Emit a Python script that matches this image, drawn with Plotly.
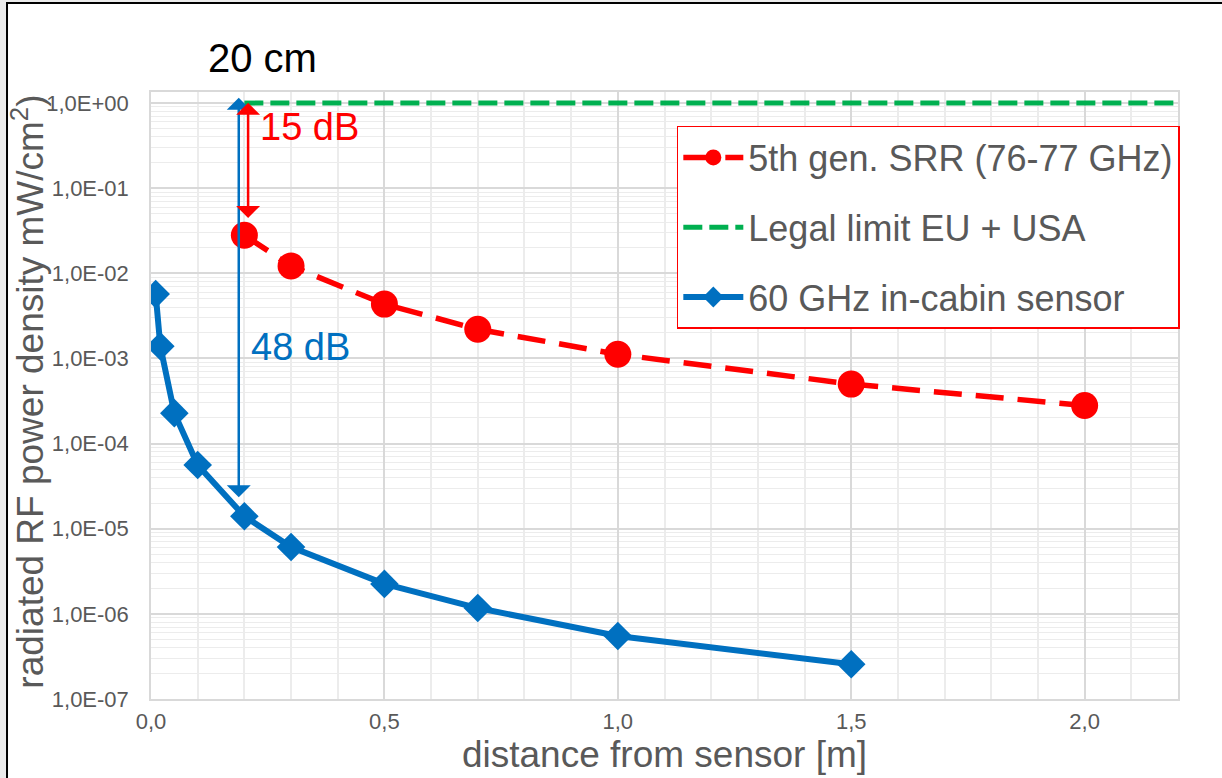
import plotly.graph_objects as go

# ---- data ----
srr_x = [0.2, 0.3, 0.5, 0.7, 1.0, 1.5, 2.0]
srr_y = [2.8e-2, 1.22e-2, 4.35e-3, 2.2e-3, 1.12e-3, 5.0e-4, 2.8e-4]

limit_x = [0.2, 2.2]
limit_y = [1.0, 1.0]

cabin_x = [0.01, 0.02, 0.05, 0.1, 0.2, 0.3, 0.5, 0.7, 1.0, 1.5]
cabin_y = [5.7e-3, 1.39e-3, 2.28e-4, 5.6e-5, 1.4e-5, 6.1e-6, 2.25e-6, 1.17e-6, 5.5e-7, 2.56e-7]

x_tickvals = [0.0, 0.5, 1.0, 1.5, 2.0]
x_ticktext = ["0,0", "0,5", "1,0", "1,5", "2,0"]
y_tickvals = [1e-7, 1e-6, 1e-5, 1e-4, 1e-3, 1e-2, 1e-1, 1e0]
y_ticktext = ["1,0E-07", "1,0E-06", "1,0E-05", "1,0E-04", "1,0E-03", "1,0E-02", "1,0E-01", "1,0E+00"]

RED = "#ff0000"
GREEN = "#00b050"
BLUE = "#0070c0"
GREY = "#595959"
FONT = "Liberation Sans"

fig = go.Figure()

fig.add_trace(go.Scatter(
    x=srr_x, y=srr_y, mode="lines+markers", name="5th gen. SRR (76-77 GHz)",
    line=dict(color=RED, width=5.5, dash="28px,14px"),
    marker=dict(symbol="circle", size=27, color=RED),
    legendgroup="a",
))
fig.add_trace(go.Scatter(
    x=limit_x, y=limit_y, mode="lines", name="Legal limit EU + USA",
    line=dict(color=GREEN, width=5, dash="19px,7px"),
    legendgroup="b",
))
fig.add_trace(go.Scatter(
    x=cabin_x, y=cabin_y, mode="lines+markers", name="60 GHz in-cabin sensor",
    line=dict(color=BLUE, width=6),
    marker=dict(symbol="diamond", size=22, color=BLUE),
    legendgroup="c",
))

# arrows (annotation coords on log axis are log10)
fig.add_annotation(x=0.188, y=-4.63, ax=0.188, ay=0.08, xref="x", yref="y", axref="x", ayref="y",
                   text="", showarrow=True, arrowhead=1, startarrowhead=1, arrowside="end+start",
                   arrowsize=1.6, startarrowsize=1.6, arrowwidth=2.5, arrowcolor=BLUE, standoff=0, startstandoff=0)
fig.add_annotation(x=0.208, y=-1.35, ax=0.208, ay=0.02, xref="x", yref="y", axref="x", ayref="y",
                   text="", showarrow=True, arrowhead=1, startarrowhead=1, arrowside="end+start",
                   arrowsize=1.6, startarrowsize=1.6, arrowwidth=2.5, arrowcolor=RED, standoff=0, startstandoff=0)

fig.add_annotation(x=0.238, y=1.056, xref="x", yref="paper", xanchor="center", yanchor="middle",
                   text="20 cm", showarrow=False,
                   font=dict(family=FONT, size=40, color="black"))
fig.add_annotation(x=0.34, y=-0.28, xref="x", yref="y", text="15 dB", showarrow=False,
                   font=dict(family=FONT, size=38, color=RED))
fig.add_annotation(x=0.321, y=-2.87, xref="x", yref="y", text="48 dB", showarrow=False,
                   font=dict(family=FONT, size=38, color=BLUE))

# y axis title
fig.add_annotation(x=-0.119, y=0.506, xref="paper", yref="paper", xanchor="center", yanchor="middle",
                   text="radiated RF power density mW/cm<sup>2</sup>)", textangle=-90, showarrow=False,
                   font=dict(family=FONT, size=37, color=GREY))

# outer frame
fig.add_shape(type="rect", xref="paper", yref="paper", x0=-0.1402, x1=1.3, y0=-0.4, y1=1.1466,
              line=dict(color="black", width=2), fillcolor="white", layer="below")

fig.update_layout(
    width=1222, height=778,
    margin=dict(l=151, r=44, t=92, b=79, autoexpand=False),
    paper_bgcolor="#ebebeb", plot_bgcolor="white",
    font=dict(family=FONT, color=GREY),
    legend=dict(x=0.512, y=0.944, xanchor="left", yanchor="top",
                bordercolor=RED, borderwidth=1.5, bgcolor="white",
                font=dict(family=FONT, size=36, color=GREY),
                tracegroupgap=20, traceorder="grouped", itemwidth=60),
    showlegend=True,
)

fig.update_xaxes(
    range=[0, 2.2], tickvals=x_tickvals, ticktext=x_ticktext,
    tickfont=dict(size=22, color=GREY), ticks="", ticklabelstandoff=2,
    showgrid=True, gridcolor="#d9d9d9", gridwidth=1.5,
    minor=dict(dtick=0.1, showgrid=True, gridcolor="#ececec", gridwidth=1.5),
    showline=True, linecolor="#d9d9d9", linewidth=1.5, mirror=True, zeroline=False,
    title=dict(text="distance from sensor [m]", font=dict(size=37, color=GREY), standoff=2),
    automargin=False,
)
fig.update_yaxes(
    type="log", range=[-7, 0.13], tickvals=y_tickvals, ticktext=y_ticktext,
    tickfont=dict(size=22, color=GREY), ticks="", ticklabelstandoff=16,
    showgrid=True, gridcolor="#d9d9d9", gridwidth=1.5,
    minor=dict(dtick="D1", showgrid=True, gridcolor="#ececec", gridwidth=1.2),
    showline=True, linecolor="#d9d9d9", linewidth=1.5, mirror=True, zeroline=False,
    automargin=False,
)

fig.write_html("out.html", config={"displayModeBar": False},
               post_script="document.body.style.margin='0px';")
